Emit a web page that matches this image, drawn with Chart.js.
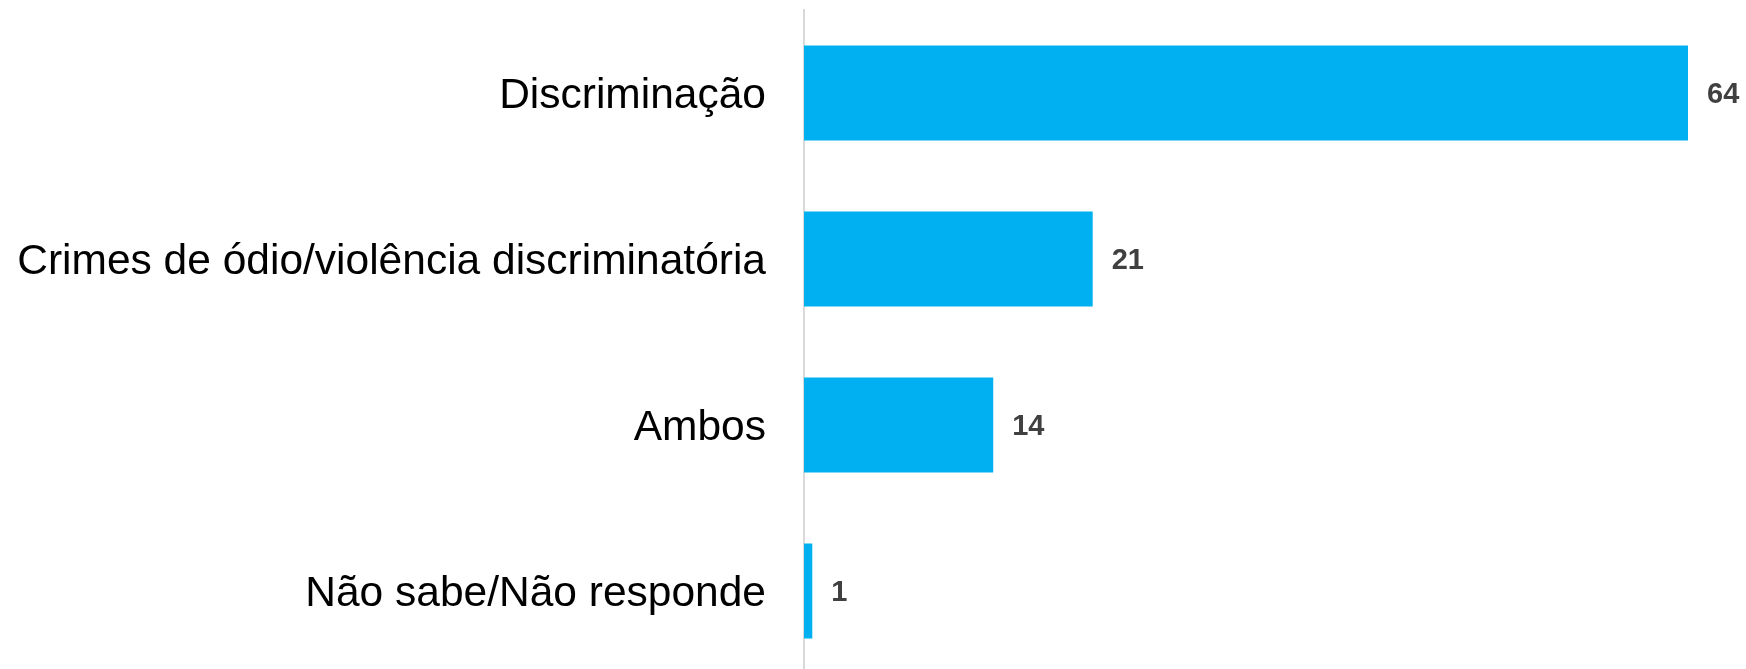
<!DOCTYPE html>
<html>
<head>
<meta charset="utf-8">
<script src="https://cdn.jsdelivr.net/npm/chart.js@4"></script>
<style>
    html, body { margin: 0; padding: 0; background: #fff; overflow: hidden; }
    #wrap { width: 1746px; height: 676px; position: relative; }
</style>
</head>
<body>
<div id="wrap"><canvas id="chart"></canvas></div>
<script>
const categories = ['Discriminação', 'Crimes de ódio/violência discriminatória', 'Ambos', 'Não sabe/Não responde'];
const values = [64, 20.9, 13.7, 0.6];
const valueLabels = ['64', '21', '14', '1'];

// draws the number to the right of each bar
const barLabels = {
    id: 'barLabels',
    afterDatasetsDraw(chart) {
        const ctx = chart.ctx;
        const meta = chart.getDatasetMeta(0);
        ctx.save();
        ctx.font = 'bold 29px "Liberation Sans", Arial, sans-serif';
        ctx.fillStyle = '#404040';
        ctx.textAlign = 'left';
        ctx.textBaseline = 'middle';
        meta.data.forEach((bar, i) => {
            ctx.fillText(valueLabels[i], bar.x + 19, bar.y + 2);
        });
        ctx.restore();
    }
};

function initChart() {
    const ctx = document.getElementById('chart').getContext('2d');
    new Chart(ctx, {
        type: 'bar',
        data: {
            labels: categories,
            datasets: [{
                data: values,
                backgroundColor: '#00B0F0',
                borderWidth: 0,
                categoryPercentage: 1,
                barPercentage: 0.573
            }]
        },
        options: {
            indexAxis: 'y',
            responsive: true,
            maintainAspectRatio: false,
            animation: false,
            layout: { padding: { top: 10, bottom: 2, right: 58, left: 0 } },
            plugins: {
                legend: { display: false },
                tooltip: { enabled: false }
            },
            scales: {
                x: {
                    display: false,
                    min: 0,
                    max: 64
                },
                y: {
                    afterFit: function(scale) {
                        scale.width = 804;
                        scale.paddingTop = 0;
                        scale.paddingBottom = 0;
                    },
                    grid: { display: false, drawTicks: false },
                    border: { display: true, color: '#d9d9d9', width: 2 },
                    ticks: {
                        color: '#000000',
                        padding: 38,
                        labelOffset: 3,
                        font: { family: '"Liberation Sans", Arial, sans-serif', size: 42.5 }
                    }
                }
            }
        },
        plugins: [barLabels]
    });
}

initChart();
</script>
</body>
</html>
